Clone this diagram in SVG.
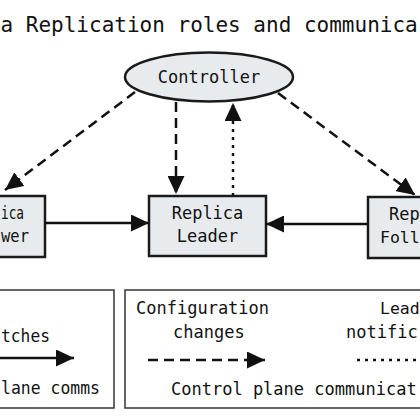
<svg xmlns="http://www.w3.org/2000/svg" width="420" height="420" viewBox="0 0 420 420">
<defs>
<style>
text{font-family:"DejaVu Sans Mono","Liberation Mono",monospace;fill:#111;}
.t{font-size:21px;}
.n{font-size:17px;}
.s{font-size:16.5px;}
.box{fill:#e7ebee;stroke:#1a1a1a;stroke-width:2.5;}
.lg{fill:#ffffff;stroke:#333;stroke-width:1.5;}
.ln{fill:none;stroke:#111;stroke-width:2.5;}
.dash{stroke-dasharray:10 6;}
.dot{stroke-dasharray:3 5;}
</style>
<marker id="ah" markerUnits="userSpaceOnUse" markerWidth="18" markerHeight="17" refX="18" refY="8.5" orient="auto" viewBox="0 0 18 17">
<path d="M0,0 L18,8.5 L0,17 Z" fill="#111"/>
</marker>
</defs>
<rect width="420" height="420" fill="#ffffff"/>
<text class="t" x="0.5" y="32">a Replication roles and communica</text>
<g id="controller">
<ellipse class="box" cx="209" cy="77" rx="84" ry="24.5"/>
<text class="n" x="209" y="83" text-anchor="middle">Controller</text>
</g>
<g id="leader">
<rect class="box" x="149" y="196" width="117" height="60"/>
<text class="n" x="207.5" y="219" text-anchor="middle">Replica</text>
<text class="n" x="207.5" y="242" text-anchor="middle">Leader</text>
</g>
<g id="follower-left">
<rect class="box" x="-72" y="196" width="117" height="61"/>
<text class="n" x="1" y="219" textLength="23" lengthAdjust="spacingAndGlyphs">ica</text>
<text class="n" x="1" y="242" textLength="28" lengthAdjust="spacingAndGlyphs">wer</text>
</g>
<g id="follower-right">
<rect class="box" x="368" y="197" width="117" height="61"/>
<text class="n" x="389" y="220">Rep</text>
<text class="s" x="380" y="243">Foll</text>
</g>
<g id="connectors">
<line class="ln" x1="45" y1="223" x2="149" y2="223" marker-end="url(#ah)"/>
<line class="ln" x1="368" y1="224" x2="266" y2="224" marker-end="url(#ah)"/>
<line class="ln dash" x1="176" y1="102" x2="176" y2="194" marker-end="url(#ah)"/>
<line class="ln dot" x1="233" y1="196" x2="233" y2="103" marker-end="url(#ah)"/>
<line class="ln dash" x1="135" y1="92" x2="5" y2="190" marker-end="url(#ah)"/>
<line class="ln dash" x1="278" y1="93" x2="415" y2="195" marker-end="url(#ah)"/>
</g>
<g id="legend-data">
<rect class="lg" x="-100" y="290" width="214" height="118"/>
<text class="n" x="1" y="342" textLength="49" lengthAdjust="spacingAndGlyphs">tches</text>
<line class="ln" x1="-5" y1="358" x2="74" y2="358" marker-end="url(#ah)"/>
<text class="n" x="1" y="394" textLength="99" lengthAdjust="spacingAndGlyphs">lane comms</text>
</g>
<g id="legend-control">
<rect class="lg" x="125" y="290" width="400" height="118"/>
<text class="n" x="136" y="314">Configuration</text>
<text class="n" x="173" y="338">changes</text>
<line class="ln dash" x1="148" y1="360" x2="265" y2="360" marker-end="url(#ah)"/>
<text class="s" x="380" y="314">Lead</text>
<text class="n" x="346" y="338">notific</text>
<line class="ln dot" x1="357" y1="360" x2="425" y2="360"/>
<text class="n" x="171" y="395">Control plane communicat</text>
</g>
</svg>
